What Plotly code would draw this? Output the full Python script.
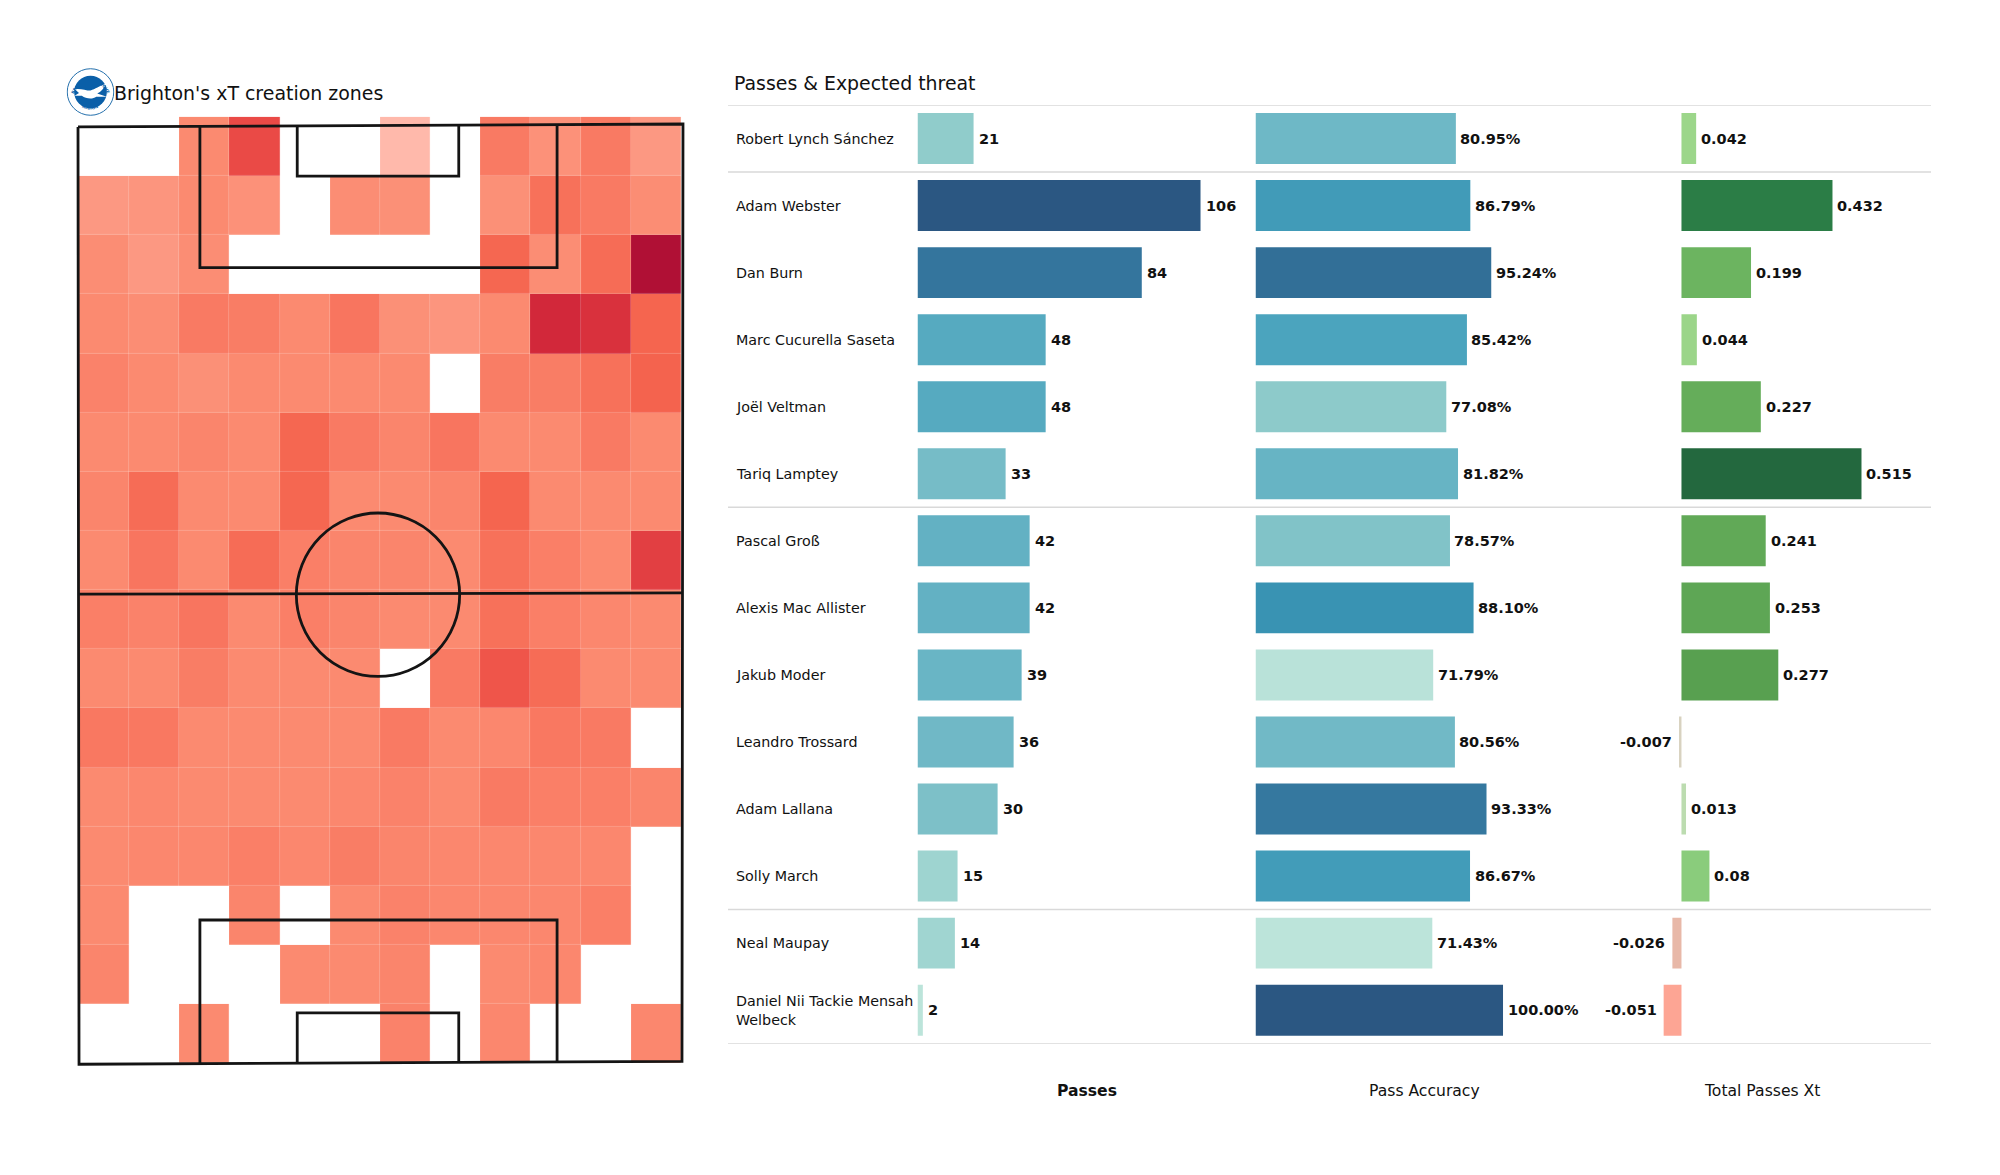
import plotly.graph_objects as go

players = ["Robert Lynch Sánchez", "Adam Webster", "Dan Burn", "Marc Cucurella Saseta", "Joël Veltman",
           "Tariq Lamptey", "Pascal Groß", "Alexis Mac Allister", "Jakub Moder", "Leandro Trossard",
           "Adam Lallana", "Solly March", "Neal Maupay", "Daniel Nii Tackie Mensah Welbeck"]
player_labels = [p if p != players[-1] else "Daniel Nii Tackie Mensah<br>Welbeck" for p in players]
passes = [21, 106, 84, 48, 48, 33, 42, 42, 39, 36, 30, 15, 14, 2]
accuracy = [80.95, 86.79, 95.24, 85.42, 77.08, 81.82, 78.57, 88.10, 71.79, 80.56, 93.33, 86.67, 71.43, 100.00]
xt = [0.042, 0.432, 0.199, 0.044, 0.227, 0.515, 0.241, 0.253, 0.277, -0.007, 0.013, 0.08, -0.026, -0.051]
group_breaks = [0.5, 5.5, 11.5]
column_titles = ["Passes", "Pass Accuracy", "Total Passes Xt"]

N = None
zones = [
    [N, N, .30, .62, N, N, .0, N, .36, .25, .36, .20],
    [.20, .22, .30, .25, N, .28, .26, N, .26, .40, .36, .28],
    [.28, .20, .28, N, N, N, N, N, .44, .28, .42, 1.0],
    [.30, .28, .36, .35, .30, .38, .26, .22, .30, .80, .75, .45],
    [.33, .30, .26, .30, .30, .30, .30, N, .35, .35, .40, .46],
    [.30, .30, .32, .30, .44, .36, .32, .38, .30, .30, .36, .30],
    [.32, .42, .30, .30, .44, .30, .30, .32, .45, .30, .30, .30],
    [.30, .38, .30, .42, .34, .32, .32, .30, .40, .34, .30, .68],
    [.34, .33, .38, .30, .34, .32, .30, .30, .40, .34, .31, .30],
    [.30, .30, .35, .30, .30, .30, N, .36, .55, .42, .30, .30],
    [.37, .37, .30, .30, .30, .30, .36, .30, .31, .37, .36, N],
    [.30, .31, .30, .30, .30, .31, .33, .30, .36, .34, .34, .32],
    [.30, .31, .31, .34, .31, .35, .32, .31, .31, .31, .31, N],
    [.30, N, N, .32, N, .30, .33, .31, .31, .31, .34, N],
    [.32, N, N, N, .30, .30, .32, N, .30, .31, N, N],
    [N, N, .30, N, N, N, .33, N, .31, N, N, .31],
]

W, H = 2000, 1175
def dom_x(a, b): return [a / W, b / W]
def dom_y(a, b): return [1 - b / H, 1 - a / H]

INK = "#111111"
FONT = "DejaVu Sans"
heat_scale = [[0, "#ffb9ab"], [.2, "#fc9882"], [.3, "#fb8a70"], [.36, "#f97a63"], [.45, "#f5654f"],
              [.62, "#ea4a46"], [.8, "#d2283a"], [1, "#b01035"]]
blue_scale = [[0, "#bce4da"], [.2, "#8ccaca"], [.33, "#6fb8c6"], [.5, "#49a3bd"], [.58, "#3993b3"],
              [.77, "#35789f"], [1, "#2b5782"]]
xt_scale = [[0, "#fda594"], [.044, "#e8b8a8"], [.078, "#d8d2c0"], [.113, "#bcdcb0"], [.164, "#9cd68a"],
            [.228, "#8acc7c"], [.44, "#6cb460"], [.58, "#58a050"], [.85, "#2b7d46"], [1, "#23683e"]]

fig = go.Figure()
fig.add_trace(go.Heatmap(z=zones, x=[i + .5 for i in range(12)], y=[i + .5 for i in range(16)],
                         colorscale=heat_scale, zmin=0, zmax=1, showscale=False, xgap=.2, ygap=.2,
                         hoverongaps=False, xaxis="x", yaxis="y"))

# Pitch markings, in heat-map cell units
outline_x = [-.02, 12.04, 12.02, 0, -.02]
outline_y = [.17, .12, 15.97, 16.02, .17]
pitch_lines = [
    (outline_x, outline_y),
    ([0, 12.03], [8.07, 8.05]),
    ([2.41, 2.41, 9.53, 9.53], [.16, 2.55, 2.55, .13]),
    ([4.35, 4.35, 7.57, 7.57], [.15, 1.0, 1.0, .14]),
    ([2.41, 2.41, 9.53, 9.53], [16.01, 13.58, 13.58, 15.99]),
    ([4.35, 4.35, 7.57, 7.57], [16.0, 15.15, 15.15, 15.99]),
]
for lx, ly in pitch_lines:
    fig.add_trace(go.Scatter(x=lx, y=ly, mode="lines", line=dict(color="#141414", width=2.8),
                             hoverinfo="skip", xaxis="x", yaxis="y", showlegend=False))

for vals, ax, scale, cmin, cmax in [(passes, "x2", blue_scale, 2, 106),
                                    (accuracy, "x3", blue_scale, 71.43, 100),
                                    (xt, "x4", xt_scale, -.051, .515)]:
    fig.add_trace(go.Bar(x=vals, y=players, orientation="h", width=.76,
                         marker=dict(color=vals, colorscale=scale, cmin=cmin, cmax=cmax, line_width=0),
                         xaxis=ax, yaxis="y2", showlegend=False))

hidden = dict(visible=False, fixedrange=True)
fig.update_layout(
    width=W, height=H, margin=dict(l=0, r=0, t=0, b=0), paper_bgcolor="white", plot_bgcolor="rgba(0,0,0,0)",
    showlegend=False, font=dict(family=FONT, color=INK),
    xaxis=dict(hidden, domain=dom_x(74, 686), range=[-.1, 12.1]),
    yaxis=dict(hidden, domain=dom_y(111, 1069), range=[16.1, -.1]),
    yaxis2=dict(hidden, domain=dom_y(105, 1043.7), range=[13.5, -.5], type="category",
                categoryorder="array", categoryarray=players, anchor="x2"),
    xaxis2=dict(hidden, domain=dom_x(917.5, 1211.2), range=[0, 110], anchor="y2"),
    xaxis3=dict(hidden, domain=dom_x(1255.5, 1515.4), range=[0, 105], anchor="y2"),
    xaxis4=dict(hidden, domain=dom_x(1660.5, 1891.2), range=[-.06, .6], anchor="y2"),
)

# Centre circle
fig.add_shape(type="circle", xref="x", yref="y", x0=5.96 - 1.628, x1=5.96 + 1.628, y0=8.08 - 1.382, y1=8.08 + 1.382,
              line=dict(color="#141414", width=2.8))
# Row separators
for b in [-.5] + group_breaks + [13.5]:
    fig.add_shape(type="line", xref="paper", yref="y2", x0=728 / W, x1=1931 / W, y0=b, y1=b,
                  line=dict(color="#d9d9d9", width=1.5))

ann = []
def text(x, y, s, size=14.5, bold=False, anchor="left", xref="paper", yref="paper", xshift=0, align="left"):
    ann.append(dict(x=x, y=y, text=f"<b>{s}</b>" if bold else s, xref=xref, yref=yref, showarrow=False,
                    xanchor=anchor, yanchor="middle", xshift=xshift, align=align,
                    font=dict(family=FONT, size=size, color=INK)))

text(112 / W, 1 - 93 / H, "Brighton's xT creation zones", size=18.95)
text(731.5 / W, 1 - 83 / H, "Passes &amp; Expected threat", size=18.9)
for p, lab in zip(players, player_labels):
    text(734 / W, p, lab, size=14.3, yref="y2")
for p, v in zip(players, passes):
    text(v, p, str(v), bold=True, xref="x2", yref="y2", xshift=3)
for p, v in zip(players, accuracy):
    text(v, p, f"{v:.2f}%", bold=True, xref="x3", yref="y2", xshift=2.5)
for p, v in zip(players, xt):
    text(v, p, str(v), bold=True, xref="x4", yref="y2", xshift=3 if v > 0 else -5, anchor="left" if v > 0 else "right")
for name, cx, bold in zip(column_titles, [1087, 1424, 1762], [True, False, False]):
    text(cx / W, 1 - 1090.5 / H, name, size=15.6, bold=bold, anchor="center")
fig.update_layout(annotations=ann)

# Club crest
crest = ("<svg xmlns='http://www.w3.org/2000/svg' xmlns:xlink='http://www.w3.org/1999/xlink' viewBox='0 0 100 100'>"
         "<defs><path id='t' d='M 14 58 A 37 37 0 0 1 86 58'/><path id='b' d='M 22 74 A 38 38 0 0 0 78 74'/></defs>"
         "<circle cx='50' cy='50' r='48.5' fill='white' stroke='%231b6aa8' stroke-width='2'/>"
         "<circle cx='50' cy='50' r='34' fill='%230a5fa8'/>"
         "<path d='M17 44 C30 42 40 47 50 47 C60 44 68 38 82 33 C78 43 72 50 64 53 L84 60 L62 60 "
         "C54 66 40 64 32 58 L17 58 L26 52 Z' fill='white'/>"
         "<text font-family='DejaVu Sans' font-weight='bold' font-size='8.5' fill='%230a5fa8'>"
         "<textPath xlink:href='%23t' startOffset='4%'>BRIGHTON &amp; HOVE</textPath></text>"
         "<text font-family='DejaVu Sans' font-weight='bold' font-size='8.5' fill='%230a5fa8'>"
         "<textPath xlink:href='%23b' startOffset='20%'>ALBION</textPath></text>"
         "</svg>")
fig.add_layout_image(dict(source="data:image/svg+xml;utf8," + crest, xref="paper", yref="paper",
                          x=66.5 / W, y=1 - 68 / H, sizex=48 / W, sizey=48 / H, xanchor="left", yanchor="top",
                          sizing="stretch", layer="above"))

fig.write_html("out.html", config=dict(displayModeBar=False), post_script="document.body.style.margin='0';")
